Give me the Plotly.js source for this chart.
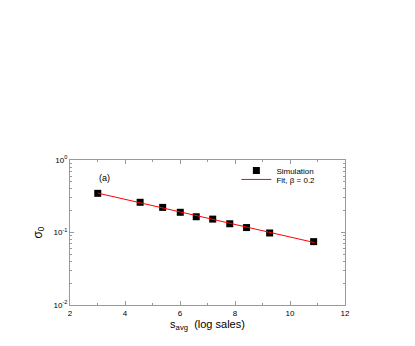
<!DOCTYPE html>
<html>
<head>
<meta charset="utf-8">
<script src="https://cdn.plot.ly/plotly-3.0.1.min.js"></script>
<style>html,body{margin:0;padding:0;background:#fff;}#chart{width:415px;height:346px;}</style>
</head>
<body>
<div id="chart"></div>
<script>
var simX = [3.01, 4.55, 5.37, 6.01, 6.59, 7.19, 7.81, 8.42, 9.26, 10.86];
var simY = [0.347, 0.261, 0.222, 0.190, 0.165, 0.153, 0.132, 0.117, 0.0985, 0.0748];
var fitX = [3.0, 10.9];
var fitY = [0.350, 0.0725];
var yTickVals = [0.01, 0.1, 1];
var yTickText = ['10<sup>-2</sup>', '10<sup>-1</sup>', '10<sup>0</sup>'];
var xTickVals = [2, 4, 6, 8, 10, 12];

var font = {family: 'Liberation Sans, Arial, sans-serif', color: '#000'};

var traces = [
  {x: simX, y: simY, mode: 'markers', type: 'scatter', name: 'Simulation', legend: 'legend',
   marker: {symbol: 'square', size: 7, color: '#000'}},
  {x: fitX, y: fitY, mode: 'lines', type: 'scatter', name: 'Fit, β = 0.2', legend: 'legend2',
   line: {color: '#ff0000', width: 1}}
];

var axisCommon = {
  showgrid: false, zeroline: false, showline: true, linecolor: '#999', linewidth: 1,
  mirror: 'allticks', ticks: 'inside', ticklen: 4, tickcolor: '#999', tickwidth: 1,
  tickfont: {family: font.family, size: 8, color: '#000'}
};

var legendCommon = {xanchor: 'left', yanchor: 'middle', bgcolor: 'rgba(0,0,0,0)',
  font: {family: font.family, size: 8, color: '#000'}, itemwidth: 30, borderwidth: 0};

var layout = {
  width: 415, height: 346,
  margin: {l: 70, r: 70, t: 160, b: 41},
  paper_bgcolor: '#fff', plot_bgcolor: '#fff',
  showlegend: true,
  legend: Object.assign({}, legendCommon, {x: 0.605, y: 0.928}),
  legend2: Object.assign({}, legendCommon, {x: 0.605, y: 0.866}),
  xaxis: Object.assign({}, axisCommon, {
    range: [2, 12], tickvals: xTickVals,
    minor: {dtick: 1, tick0: 0, ticks: 'inside', ticklen: 2, tickcolor: '#999'},
    title: {text: 's<sub>avg</sub>  (log sales)', font: {family: font.family, size: 11, color: '#000'}, standoff: 0}
  }),
  yaxis: Object.assign({}, axisCommon, {
    type: 'log', range: [-2, 0], tickvals: yTickVals, ticktext: yTickText,
    minor: {dtick: 'D1', ticks: 'inside', ticklen: 2, tickcolor: '#999'},
    title: {text: 'σ<sub>0</sub>', font: {family: font.family, size: 12, color: '#000'}, standoff: 8}
  }),
  annotations: [
    {x: 3.27, y: -0.25, xref: 'x', yref: 'y', text: '(a)', showarrow: false,
     font: {family: font.family, size: 9, color: '#000'}}
  ]
};

Plotly.newPlot('chart', traces, layout, {displayModeBar: false, staticPlot: true});
</script>
</body>
</html>
